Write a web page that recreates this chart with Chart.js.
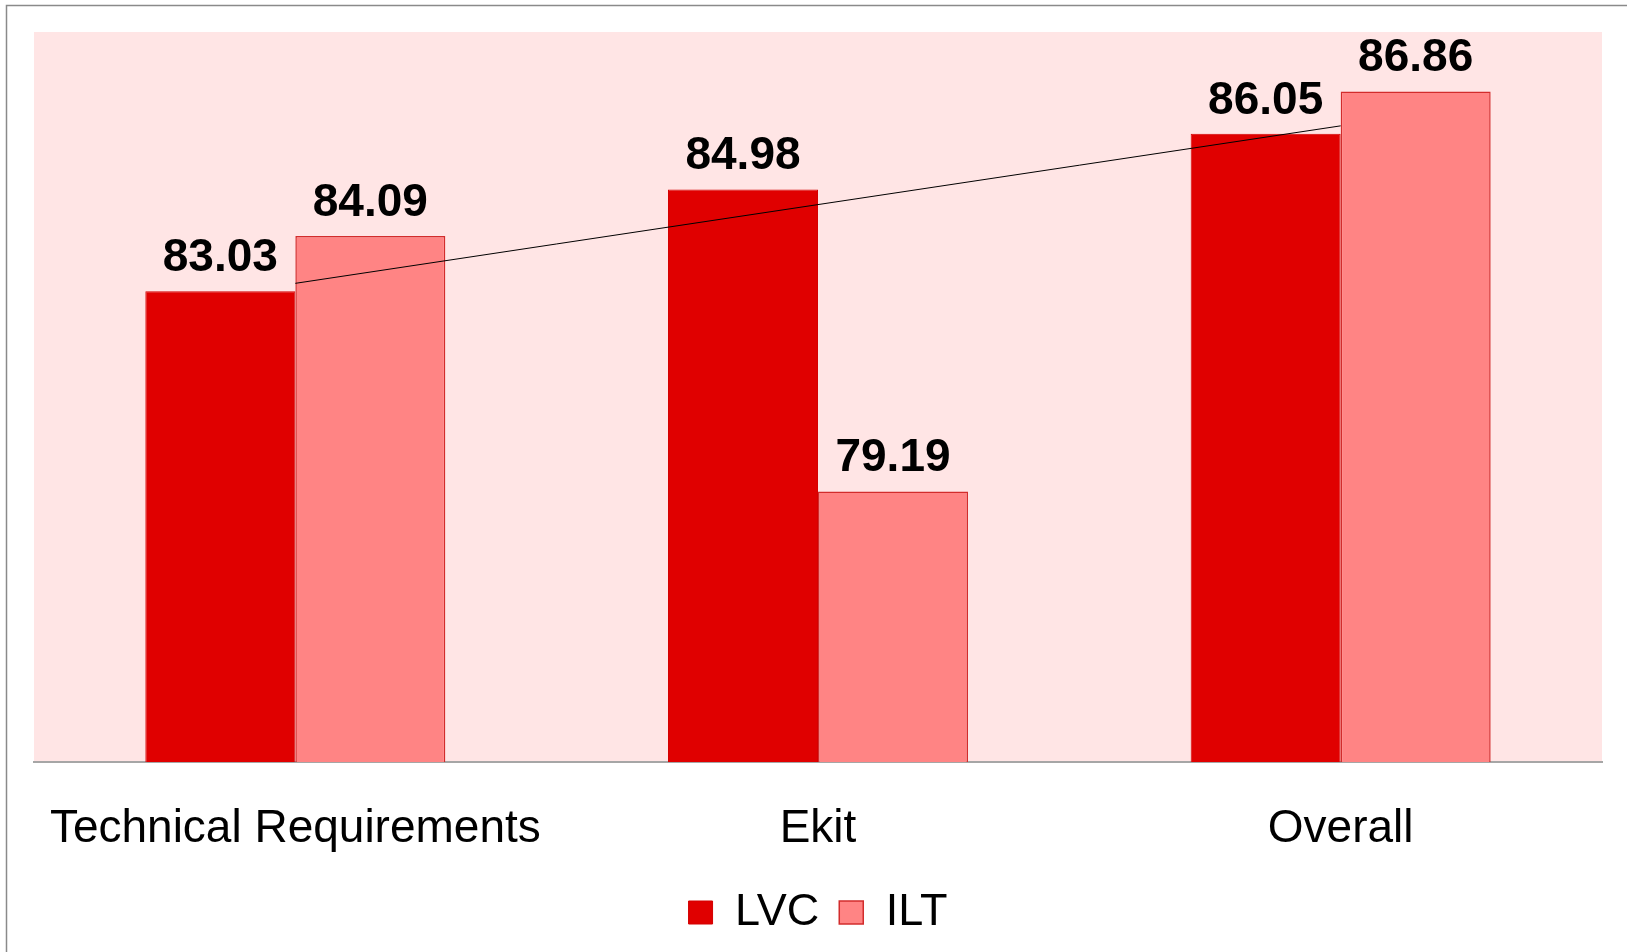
<!DOCTYPE html>
<html>
<head>
<meta charset="utf-8">
<script src="https://cdn.jsdelivr.net/npm/chart.js@4.4.0/dist/chart.umd.min.js"></script>
<style>
  html, body { margin: 0; padding: 0; background: #fff; }
  #wrap { width: 1627px; height: 952px; position: relative; }
</style>
</head>
<body>
<div id="wrap"><canvas id="scoreChart"></canvas></div>
<script>
// Data
const categories = ['Technical Requirements', 'Ekit', 'Overall'];
const lvcValues = [83.03, 84.98, 86.05];
const iltValues = [84.09, 79.19, 86.86];
// linear trend of LVC, as it sits in the picture (at the category centres)
const trendValues = [83.18, 84.69, 86.20];

const FONT = "'Liberation Sans', Arial, sans-serif";

// outer frame + pink plot area
const backdrop = {
  id: 'backdrop',
  beforeDraw(chart) {
    const c = chart.ctx, a = chart.chartArea;
    c.save();
    c.fillStyle = '#FFE5E5';
    c.fillRect(a.left, a.top, a.right - a.left, a.bottom - a.top);
    c.strokeStyle = '#8a8a8a';
    c.lineWidth = 1.5;
    c.beginPath();
    c.moveTo(6.5, chart.height);
    c.lineTo(6.5, 5.5);
    c.lineTo(chart.width, 5.5);
    c.stroke();
    c.restore();
  }
};

// value labels over the bars
const barLabels = {
  id: 'barLabels',
  afterDatasetsDraw(chart) {
    const c = chart.ctx;
    c.save();
    c.font = 'bold 46px ' + FONT;
    c.fillStyle = '#000';
    c.textAlign = 'center';
    c.textBaseline = 'alphabetic';
    chart.data.datasets.forEach((ds, i) => {
      if (ds.type === 'line') return;
      chart.getDatasetMeta(i).data.forEach((bar, j) => {
        c.fillText(ds.data[j].toFixed(2), bar.x, bar.y - 20);
      });
    });
    c.restore();
  }
};

const ctx = document.getElementById('scoreChart').getContext('2d');
new Chart(ctx, {
  data: {
    labels: categories,
    datasets: [
      { type: 'line', label: 'Trend', data: trendValues, borderColor: '#000', borderWidth: 1,
        pointRadius: 0, fill: false, order: 0 },
      { type: 'bar', label: 'LVC', data: lvcValues, backgroundColor: '#E00000',
        borderColor: '#D40000', borderWidth: 1, order: 1 },
      { type: 'bar', label: 'ILT', data: iltValues, backgroundColor: '#FF8484',
        borderColor: '#D22C2C', borderWidth: 1.5, order: 1 }
    ]
  },
  options: {
    responsive: true,
    maintainAspectRatio: false,
    animation: false,
    datasets: { bar: { categoryPercentage: 0.574, barPercentage: 1.0 } },
    layout: { padding: { left: 34, right: 25, top: 32, bottom: 7 } },
    scales: {
      x: {
        grid: { display: true, drawOnChartArea: false, drawTicks: true, tickLength: 26,
                color: 'rgba(0,0,0,0)', tickColor: 'rgba(0,0,0,0)' },
        border: { display: true, color: '#a6a6a6', width: 2 },
        ticks: { color: '#000', font: { family: FONT, size: 46, lineHeight: 1.0 },
                 padding: 18, autoSkip: false, maxRotation: 0 }
      },
      y: { display: false, min: 74, max: 88 }
    },
    plugins: {
      legend: {
        position: 'bottom',
        labels: {
          color: '#000',
          font: { family: FONT, size: 45 },
          boxWidth: 24, boxHeight: 23, padding: 20,
          filter: item => item.text !== 'Trend'
        }
      },
      tooltip: { enabled: false }
    }
  },
  plugins: [backdrop, barLabels]
});
</script>
</body>
</html>
